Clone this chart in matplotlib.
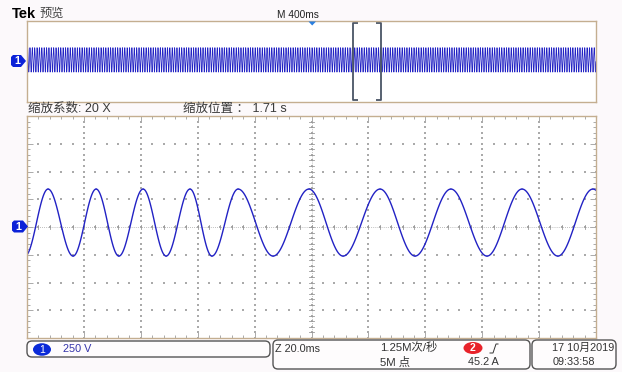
import numpy as np
import matplotlib
matplotlib.use("Agg")
import matplotlib.pyplot as plt
from matplotlib.patches import FancyBboxPatch, Ellipse, Polygon

# zoomed trace: times (ms) of successive troughs/peaks and their levels (V)
extrema_ms = [-100.7, -92.6, -83.8, -75.7, -67.7, -59.2, -51.1, -42.7, -35.0,
              -25.8, -13.5, -0.9, 11.1, 24.1, 36.4, 49.0, 61.7, 74.0, 86.6,
              98.9, 111.4]
peak_v = 342
trough_v = -262

# overview record (4 s) and where the zoom window sits in it
overview_freq_hz = 60
zoom_center_s = 2.39
zoom_span_s = 0.2

volts_per_div = 250
ms_per_div = 20
ov_ms_per_div = 400

BLUE = "#2222c4"
TAN = "#c4ae90"
GRID = "#aaaaaa"
BG = "#fcf9fb"
W, H = 622, 372

fig = plt.figure(figsize=(W / 100, H / 100), dpi=100)
fig.patch.set_facecolor(BG)

def px_axes(x0, y0, x1, y1):
    return fig.add_axes([x0 / W, 1 - y1 / H, (x1 - x0) / W, (y1 - y0) / H])

# ---- overview window ----
ov = px_axes(27, 21, 596, 102)
ov.set_xlim(0, 10 * ov_ms_per_div / 1000)
ov.set_ylim(-4 * volts_per_div, 4 * volts_per_div)
ov.set_xticks([]); ov.set_yticks([])
for s in ov.spines.values():
    s.set_color(TAN); s.set_linewidth(1.0)

t_ov = np.arange(0, 4.0, 0.0004)
mid = (peak_v + trough_v) / 2
amp = (peak_v - trough_v) / 2
ov.plot(t_ov, mid + amp * np.sin(2 * np.pi * overview_freq_hz * t_ov),
        color=BLUE, lw=0.55)

# zoom bracket
bx0 = zoom_center_s - zoom_span_s / 2
bx1 = zoom_center_s + zoom_span_s / 2
serif = 0.04
for x, d in ((bx0, 1), (bx1, -1)):
    ov.plot([x + d * serif, x, x, x + d * serif], [950, 950, -950, -950],
            color="#4a5566", lw=1.3, solid_capstyle="butt")

# ---- main graticule ----
ax = px_axes(27, 116, 596, 338)
ax.set_xlim(-5 * ms_per_div, 5 * ms_per_div)
ax.set_ylim(-4 * volts_per_div, 4 * volts_per_div)
for s in ax.spines.values():
    s.set_color(TAN); s.set_linewidth(1.0)
ax.set_xticks(np.arange(-100, 101, 20))
ax.set_xticks(np.arange(-100, 101, 4), minor=True)
ax.set_yticks(np.arange(-1000, 1001, 250))
ax.set_yticks(np.arange(-1000, 1001, 50), minor=True)
ax.tick_params(which="both", direction="in", top=True, right=True,
               labelbottom=False, labelleft=False, color=GRID, width=0.7)
ax.tick_params(which="major", length=4)
ax.tick_params(which="minor", length=2.5)

# dotted division lines
for xv in np.arange(-80, 81, 20):
    ys = np.arange(-1000, 1001, 50)
    ax.scatter(np.full_like(ys, xv, dtype=float), ys, s=0.6, color=GRID,
               marker="s", lw=0)
for yv in np.arange(-750, 751, 250):
    xs = np.arange(-100, 101, 4)
    ax.scatter(xs, np.full_like(xs, yv, dtype=float), s=0.6, color=GRID,
               marker="s", lw=0)
# centre crosshair with fine ticks
ax.axvline(0, color=GRID, lw=0.6, ls=(0, (1, 1.5)))
ax.axhline(0, color=GRID, lw=0.6, ls=(0, (1, 1.5)))
for yv in np.arange(-1000, 1001, 50):
    ax.plot([-0.9, 0.9], [yv, yv], color="#999999", lw=0.6)
for xv in np.arange(-100, 101, 4):
    ax.plot([xv, xv], [-22, 22], color="#999999", lw=0.6)

# trace: half-cosine arcs between the read extrema
levels = [trough_v if i % 2 == 0 else peak_v for i in range(len(extrema_ms))]
for i in range(len(extrema_ms) - 1):
    t0, t1 = extrema_ms[i], extrema_ms[i + 1]
    v0, v1 = levels[i], levels[i + 1]
    tt = np.linspace(t0, t1, 40)
    vv = (v0 + v1) / 2 + (v0 - v1) / 2 * np.cos(np.pi * (tt - t0) / (t1 - t0))
    ax.plot(tt, vv, color=BLUE, lw=1.0, solid_capstyle="round")

# ---- overlay in pixel coordinates ----
top = fig.add_axes([0, 0, 1, 1], zorder=5)
top.set_xlim(0, W); top.set_ylim(H, 0)
top.axis("off")
top.patch.set_alpha(0)

LAT = ["Liberation Sans", "Noto Sans CJK SC", "DejaVu Sans"]

top.text(12, 14, "Tek", fontsize=10.5, fontweight="bold", family=LAT,
         va="center", ha="left", color="black")
top.text(40, 14, "预览", fontsize=8.8, family=LAT, va="center", ha="left",
         color="#444444")
top.text(277, 14.5, "M 400ms", fontsize=7.3, family=LAT, va="center",
         ha="left", color="#222222")
top.add_patch(Polygon([(308.5, 21.5), (316, 21.5), (312.2, 25.5)],
                      closed=True, color="#2a7fe0", lw=0))

top.text(28, 109, "缩放系数: 20 X", fontsize=9, family=LAT, va="center",
         ha="left", color="#3a3a3a")
top.text(183, 109, "缩放位置 ： 1.71 s", fontsize=9, family=LAT,
         va="center", ha="left", color="#3a3a3a")


def ch_marker(yc, x0, x1):
    h = 6
    pts = [(x0, yc - h + 2), (x0 + 2, yc - h), (x1 - 5, yc - h), (x1, yc),
           (x1 - 5, yc + h), (x0 + 2, yc + h), (x0, yc + h - 2)]
    top.add_patch(Polygon(pts, closed=True, color="#0c22d8", lw=0))
    top.text((x0 + x1) / 2 - 1.5, yc + 0.3, "1", fontsize=7.8,
             fontweight="bold", family=LAT, color="white", ha="center",
             va="center")


ch_marker(61, 11, 26)
ch_marker(226.5, 12, 28)

# status bar boxes
box_kw = dict(boxstyle="round,pad=0,rounding_size=5", fc="#fefcfd",
              ec="#555555", lw=1.0)
top.add_patch(FancyBboxPatch((27, 341), 243, 16, **box_kw))
top.add_patch(FancyBboxPatch((273, 340), 257, 29, **box_kw))
top.add_patch(FancyBboxPatch((532, 340), 84, 29, **box_kw))

top.add_patch(Ellipse((42, 349.5), 18, 12.5, color="#0a2ad8", lw=0))
top.text(42, 349.8, "1", fontsize=7.5, family=LAT, color="white",
         ha="center", va="center")
top.text(63, 349.5, "250 V", fontsize=7.8, family=LAT, color="#3333aa",
         ha="left", va="center")

top.text(275, 348.5, "Z 20.0ms", fontsize=7.8, family=LAT, color="#333333",
         ha="left", va="center")
top.text(380, 348, "1.25M次/秒", fontsize=8.2, family=LAT, color="#333333",
         ha="left", va="center")
top.text(380, 362, "5M 点", fontsize=8.2, family=LAT, color="#333333",
         ha="left", va="center")
top.add_patch(Ellipse((473, 348), 19, 12, color="#e8222a", lw=0))
top.text(473, 348.3, "2", fontsize=7.5, fontweight="bold", family=LAT,
         color="white", ha="center", va="center")
top.plot([490, 493, 496, 498], [353, 353, 344, 344], color="#333333", lw=0.7)
top.text(468, 362, "45.2 A", fontsize=7.8, family=LAT, color="#333333",
         ha="left", va="center")

top.text(552, 347.5, "17 10月2019", fontsize=7.8, family=LAT,
         color="#333333", ha="left", va="center")
top.text(553, 362, "09:33:58", fontsize=7.8, family=LAT, color="#333333",
         ha="left", va="center")

fig.savefig("out.png", dpi=100, facecolor=BG)
